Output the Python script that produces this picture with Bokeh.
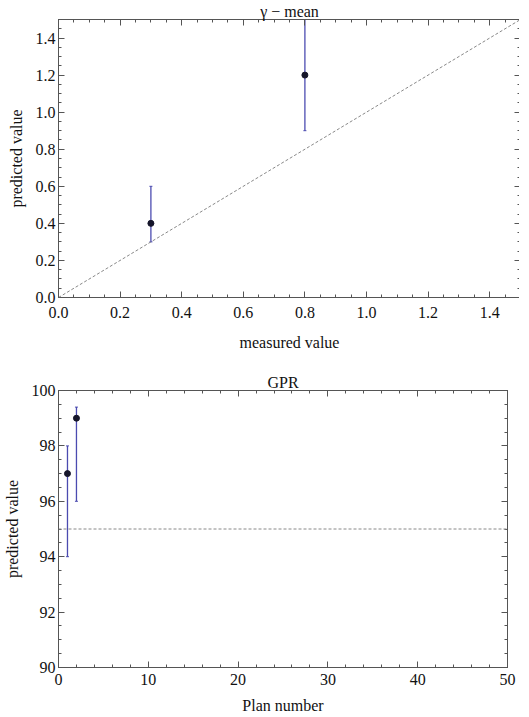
from bokeh.plotting import figure
from bokeh.layouts import column
from bokeh.models import (FixedTicker, LinearAxis, Range1d, Whisker, TeeHead,
                          ColumnDataSource, Slope, Span)
from bokeh.embed import file_html
from bokeh.resources import INLINE

# ---- data: gamma - mean ----
g_measured = [0.3, 0.8]
g_predicted = [0.4, 1.2]
g_lower = [0.3, 0.9]
g_upper = [0.6, 1.5]
g_ticks = [0.0, 0.2, 0.4, 0.6, 0.8, 1.0, 1.2, 1.4]
g_minor = [i * 0.05 for i in range(31)]

# ---- data: GPR ----
gpr_plan = [1, 2]
gpr_predicted = [97, 99]
gpr_lower = [94, 96]
gpr_upper = [98, 99.4]
gpr_threshold = 95
gpr_xticks = [0, 10, 20, 30, 40, 50]
gpr_xminor = list(range(0, 51, 2))
gpr_yticks = [90, 92, 94, 96, 98, 100]
gpr_yminor = [90 + i * 0.5 for i in range(21)]

FONT = "Liberation Serif"
FRAME = "#555555"
ERR = "#4b4bb0"
PT = "#15152a"
TXT = "#111111"


def style(p, xt, xm, yt, ym, fmt, below_standoff, label_standoff):
    p.xaxis.visible = False
    p.yaxis.visible = False
    for side, ticks, minor, show in [("below", xt, xm, True), ("left", yt, ym, True),
                                     ("above", xt, xm, False), ("right", yt, ym, False)]:
        ax = LinearAxis(ticker=FixedTicker(ticks=ticks, minor_ticks=minor))
        ax.axis_line_color = FRAME
        ax.major_tick_line_color = FRAME
        ax.minor_tick_line_color = FRAME
        ax.major_tick_in = 6
        ax.major_tick_out = 0
        ax.minor_tick_in = 3
        ax.minor_tick_out = 0
        ax.major_label_standoff = below_standoff if side == "below" else 3
        ax.major_label_text_font = FONT
        ax.major_label_text_font_size = "16px"
        ax.major_label_text_color = TXT
        ax.axis_label_text_font = FONT
        ax.axis_label_text_font_size = "16px"
        ax.axis_label_text_font_style = "normal"
        ax.axis_label_text_color = TXT
        ax.axis_label_standoff = label_standoff if side == "below" else 8
        if fmt and side in ("below", "left"):
            ax.major_label_overrides = fmt.get(side, {})
        if not show:
            ax.major_label_text_font_size = "0px"
            ax.major_label_standoff = 0
            ax.major_label_text_alpha = 0
        p.add_layout(ax, side)
    p.grid.visible = False
    p.outline_line_color = FRAME
    p.title.text_font = FONT
    p.title.text_font_size = "16px"
    p.title.text_font_style = "normal"
    p.title.align = "center"
    p.title.text_color = TXT
    p.title.standoff = 0
    p.title.offset = 0


# ---- top figure ----
p1 = figure(frame_width=462, frame_height=278, output_backend="svg",
            toolbar_location=None, title="γ − mean",
            x_range=Range1d(0, 1.5), y_range=Range1d(0, 1.5),
            min_border_left=48, min_border_right=3, min_border_top=16,
            min_border_bottom=73)
fmt1 = {"below": {t: f"{t:.1f}" for t in g_ticks},
        "left": {t: f"{t:.1f}" for t in g_ticks}}
style(p1, g_ticks, g_minor, g_ticks, g_minor, fmt1, 9, 13)
p1.below[-1].axis_label = "measured value"
p1.left[-1].axis_label = "predicted value"
p1.add_layout(Slope(gradient=1, y_intercept=0, line_color="#888888",
                    line_dash="3 2", line_width=1))
s1 = ColumnDataSource(dict(x=g_measured, y=g_predicted, lo=g_lower, hi=g_upper))
p1.add_layout(Whisker(source=s1, base="x", lower="lo", upper="hi",
                      line_color=ERR, line_width=1.3,
                      upper_head=TeeHead(size=3, line_color=ERR),
                      lower_head=TeeHead(size=3, line_color=ERR)))
p1.scatter("x", "y", source=s1, size=6, color=PT)

# ---- bottom figure ----
p2 = figure(frame_width=449, frame_height=277, output_backend="svg",
            toolbar_location=None, title="GPR",
            x_range=Range1d(0, 50), y_range=Range1d(90, 100),
            min_border_left=52, min_border_right=12, min_border_top=20,
            min_border_bottom=37)
style(p2, gpr_xticks, gpr_xminor, gpr_yticks, gpr_yminor, None, 6, 9)
p2.below[-1].axis_label = "Plan number"
p2.left[-1].axis_label = "predicted value"
p2.add_layout(Span(location=gpr_threshold, dimension="width",
                   line_color="#888888", line_dash="3 2", line_width=1))
s2 = ColumnDataSource(dict(x=gpr_plan, y=gpr_predicted, lo=gpr_lower, hi=gpr_upper))
p2.add_layout(Whisker(source=s2, base="x", lower="lo", upper="hi",
                      line_color=ERR, line_width=1.3,
                      upper_head=TeeHead(size=3, line_color=ERR),
                      lower_head=TeeHead(size=3, line_color=ERR)))
p2.scatter("x", "y", source=s2, size=6, color=PT)

layout = column(p1, p2, spacing=0)
open("out.html", "w").write(file_html(layout, INLINE))
